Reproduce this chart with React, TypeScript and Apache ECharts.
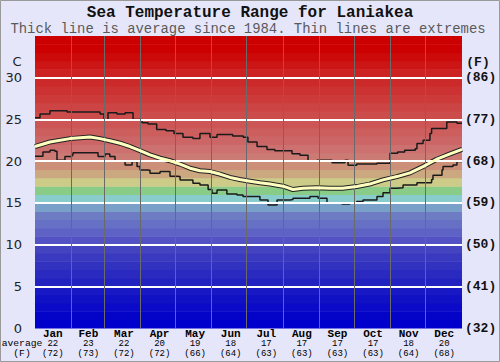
import React, { useEffect, useRef } from "react";
import * as echarts from "echarts";

// Month labels and monthly averages
const months = ["Jan", "Feb", "Mar", "Apr", "May", "Jun", "Jul", "Aug", "Sep", "Oct", "Nov", "Dec"];
const monthAvgC = [22, 23, 22, 20, 19, 18, 17, 17, 17, 17, 18, 20];
const monthAvgF = [72, 73, 72, 72, 66, 64, 63, 63, 63, 63, 64, 68];
// Month boundaries (day of year)
const monthStarts = [31, 59, 90, 120, 151, 181, 212, 243, 273, 304, 334];
// Horizontal white grid values (°C)
const gridValues = [5, 10, 15, 20, 25, 30];

// Maximum (thin upper line)
const maxDays = [0, 4.3, 12.8, 27.4, 49.6, 55.6, 59, 62.4, 70, 77, 83.8, 91.5, 96.6, 104, 112, 118.8, 126.5, 135, 141, 149.6, 155.6, 169, 178, 182, 189.8, 198.3, 205, 219.7, 226.5, 233.4, 241, 253.9, 265, 267.6, 275, 292.3, 303.5, 310, 316, 325, 326.5, 331.7, 337.6, 339, 352, 360.7, 365];
const maxTemps = [25.2, 25.65, 26.05, 25.9, 25.9, 25.65, 24.9, 25.8, 25.65, 25.8, 25.0, 24.6, 24.45, 23.8, 23.65, 23.3, 22.85, 22.7, 23.3, 22.85, 23.2, 23.0, 22.85, 22.3, 21.75, 21.4, 21.25, 20.9, 20.7, 20.0, 20.1, 19.8, 20.1, 19.5, 19.65, 19.75, 20.95, 21.1, 21.3, 21.5, 22.1, 22.5, 23.3, 23.9, 24.7, 24.55, 24.55];

// Average (thick line)
const avgDays = [0, 12.8, 29.9, 47, 55.6, 64, 72.7, 81.2, 89.8, 98.3, 106.9, 115.4, 124, 132.5, 141, 149.6, 158, 166.7, 175, 183.8, 192.3, 200.9, 212, 220.5, 229, 241, 252, 263, 275, 286, 297.5, 309.4, 320.6, 331.7, 343, 354.3, 365];
const avgTemps = [21.75, 22.3, 22.7, 22.9, 22.7, 22.45, 22.15, 21.75, 21.25, 20.75, 20.35, 20.05, 19.65, 19.15, 18.85, 18.75, 18.45, 18.05, 17.8, 17.6, 17.4, 17.25, 17.0, 16.6, 16.75, 16.8, 16.75, 16.75, 16.95, 17.25, 17.75, 18.15, 18.6, 19.35, 20.2, 20.85, 21.4];

// Minimum (thin lower line)
const minDays = [0, 6.8, 12.8, 17, 18.8, 24, 25.6, 31.6, 32.5, 53, 53.9, 59.8, 64, 68.4, 77, 81.2, 83, 87.2, 89.8, 95.7, 98.3, 106.9, 112.8, 115.4, 121.4, 124, 135, 141, 148, 151.3, 155.6, 160.7, 164, 172.7, 177.8, 183.8, 192.3, 198.3, 199.2, 205, 206.9, 218, 220.5, 235, 242, 249.6, 254.7, 262.4, 269, 275, 280.4, 292.3, 297.5, 303.5, 309.4, 314.6, 326.5, 339, 340.2, 347.9, 348.8, 357.3, 360.7, 365];
const minTemps = [20.6, 21.1, 21.3, 21.2, 20.1, 20.1, 20.55, 20.75, 21.0, 21.0, 20.55, 20.85, 20.55, 20.05, 19.55, 19.55, 19.95, 19.35, 18.95, 18.9, 18.55, 18.75, 18.75, 18.2, 18.15, 17.75, 17.35, 17.15, 16.6, 16.15, 16.55, 16.55, 16.05, 15.95, 15.75, 15.75, 15.35, 15.35, 14.75, 14.75, 15.35, 15.4, 15.55, 15.75, 15.55, 15.0, 15.0, 14.85, 14.95, 15.15, 15.35, 15.75, 16.2, 16.75, 16.8, 17.15, 17.4, 17.8, 18.3, 18.95, 19.35, 19.55, 19.95, 20.0];

// Background temperature bands (lower edge, °C), one degree each
const bandLows = [0, 1, 2, 3, 4, 5, 6, 7, 8, 9, 10, 11, 12, 13, 14, 15, 16, 17, 18, 19, 20, 21, 22, 23, 24, 25, 26, 27, 28, 29, 30, 31, 32, 33, 34];
const bandColors = [
  "#0000cc", "#0404c8", "#0a0ac8", "#1010c4", "#1818c4",
  "#2222c0", "#2a2ac0", "#3232c0", "#3a3ac0", "#4444c0",
  "#5252c4", "#5e62c4", "#6670c4", "#6e7cc4", "#78a0c8",
  "#88cccc", "#88cc88", "#cccc88", "#cca880", "#cc9078",
  "#cc7a74", "#cc7070", "#cc6666", "#cc5e5e", "#cc5555",
  "#cc4c4c", "#cc4444", "#cc3a3a", "#cc3232", "#cc2a2a",
  "#cc2222", "#cc1616", "#cc0a0a", "#cc0000", "#cc0000",
];

const zip = (xs: number[], ys: number[]) => xs.map((x, i) => [x, ys[i]]);

export default function App() {
  const ref = useRef<HTMLDivElement>(null);
  useEffect(() => {
    if (!ref.current) return;
    const chart = echarts.init(ref.current, undefined, { renderer: "svg" });
    const mono = '"Liberation Mono", "Courier New", monospace';
    chart.setOption({
      animation: false,
      backgroundColor: "#e6e6fa",
      grid: { left: 35, right: 38, top: 36, bottom: 34 },
      xAxis: [
        { type: "value", min: 0, max: 365, show: false },
        {
          type: "category",
          data: months,
          position: "bottom",
          boundaryGap: true,
          axisLine: { show: false },
          axisTick: { show: false },
          splitLine: { show: false },
          axisLabel: {
            margin: 1,
            interval: 0,
            formatter: (v: string, i: number) => `{m|${v}}\n{n|${monthAvgC[i]}}\n{n|(${monthAvgF[i]})}`,
            rich: {
              m: { fontFamily: mono, fontWeight: "bold", fontSize: 11, color: "#000", lineHeight: 10 },
              n: { fontFamily: mono, fontSize: 9, color: "#000", lineHeight: 10 },
            },
          },
        },
      ],
      yAxis: [
        {
          type: "value", min: 0, max: 35, interval: 5, position: "left",
          axisLine: { show: false }, axisTick: { show: false }, splitLine: { show: false },
          axisLabel: {
            margin: 13, fontFamily: '"DejaVu Sans", sans-serif', fontSize: 13, color: "#222",
            formatter: (v: number) => (v === 35 ? "" : String(v)),
          },
        },
        {
          type: "value", min: 0, max: 35, interval: 5, position: "right",
          axisLine: { show: false }, axisTick: { show: false }, splitLine: { show: false },
          axisLabel: {
            margin: 3, fontFamily: mono, fontWeight: "bold", fontSize: 13, color: "#111",
            formatter: (v: number) => (v === 35 ? "" : `(${Math.round((v * 9) / 5 + 32)})`),
          },
        },
      ],
      graphic: [
        { type: "rect", shape: { x: 0.5, y: 0.5, width: 499, height: 361 }, style: { fill: "none", stroke: "#999", lineWidth: 1 }, silent: true },
        { type: "text", x: 250, y: 12.5, style: { text: "Sea Temperature Range for Laniakea", font: `bold 16px ${mono}`, fill: "#111", align: "center", verticalAlign: "middle" } },
        { type: "text", x: 248, y: 28.5, style: { text: "Thick line is average since 1984. Thin lines are extremes", font: `13.9px ${mono}`, fill: "#5a5a5a", align: "center", verticalAlign: "middle" } },
        { type: "text", x: 17, y: 61, style: { text: "C", font: '13px "DejaVu Sans", sans-serif', fill: "#222", align: "center", verticalAlign: "middle" } },
        { type: "text", x: 478, y: 62, style: { text: "(F)", font: `bold 13px ${mono}`, fill: "#111", align: "center", verticalAlign: "middle" } },
        { type: "text", x: 22, y: 343, style: { text: "average", font: `9.7px ${mono}`, fill: "#000", align: "center", verticalAlign: "middle" } },
        { type: "text", x: 22, y: 353, style: { text: "(F)", font: `9.7px ${mono}`, fill: "#000", align: "center", verticalAlign: "middle" } },
      ],
      series: [
        {
          type: "custom",
          xAxisIndex: 0, yAxisIndex: 0, z: 1, silent: true,
          data: bandLows.map((lo, i) => [lo, lo + 1, i]),
          encode: { x: -1, y: [0, 1] },
          renderItem: (params: any, api: any) => {
            const lo = api.value(0);
            const hi = api.value(1);
            const idx = api.value(2);
            const p1 = api.coord([0, hi]);
            const p2 = api.coord([365, lo]);
            return {
              type: "rect",
              shape: { x: p1[0], y: p1[1], width: p2[0] - p1[0], height: p2[1] - p1[1] + 0.5 },
              style: { fill: bandColors[idx] },
            };
          },
        },
        {
          type: "line", xAxisIndex: 0, yAxisIndex: 0, z: 2, silent: true,
          data: [[0, 0]], symbol: "none", lineStyle: { width: 0, opacity: 0 },
          markLine: {
            silent: true, symbol: "none", label: { show: false },
            data: [
              ...gridValues.map((v) => ({ yAxis: v, lineStyle: { color: "#ffffff", width: 2, type: "solid" } })),
              ...monthStarts.map((d) => ({ xAxis: d, lineStyle: { color: "#6a6a6a", width: 1, type: "solid" } })),
            ],
          },
        },
        {
          type: "line", xAxisIndex: 0, yAxisIndex: 0, z: 3, silent: true,
          data: zip(maxDays, maxTemps), step: "end", symbol: "none",
          lineStyle: { color: "#1a1a1a", width: 1.5 },
        },
        {
          type: "line", xAxisIndex: 0, yAxisIndex: 0, z: 3, silent: true,
          data: zip(minDays, minTemps), step: "end", symbol: "none",
          lineStyle: { color: "#1a1a1a", width: 1.5 },
        },
        {
          type: "line", xAxisIndex: 0, yAxisIndex: 0, z: 4, silent: true,
          data: zip(avgDays, avgTemps), symbol: "none",
          lineStyle: { color: "#222", width: 5 },
        },
        {
          type: "line", xAxisIndex: 0, yAxisIndex: 0, z: 5, silent: true,
          data: zip(avgDays, avgTemps), symbol: "none",
          lineStyle: { color: "#ffffc0", width: 3 },
        },
      ],
    });
    return () => chart.dispose();
  }, []);
  return <div ref={ref} style={{ position: "fixed", left: 0, top: 0, width: 500, height: 362 }} />;
}
